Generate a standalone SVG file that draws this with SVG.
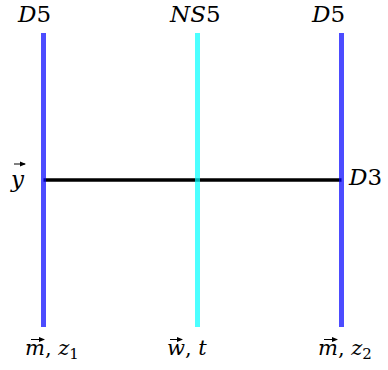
<svg xmlns="http://www.w3.org/2000/svg" width="388" height="370" viewBox="0 0 388 370">
<style>
text{font-family:"DejaVu Serif","Liberation Serif",serif;font-style:italic;font-size:21px;fill:#000}
.big{font-size:23px}
.up{font-style:normal}
.sub{font-size:15px;font-style:normal}
.brane{stroke-width:5;fill:none;stroke-opacity:0.7}
.vec{stroke:#000;stroke-width:1;fill:none}
.vh{fill:#000;stroke:none}
</style>
<defs>
<marker id="ah" viewBox="0 0 6 6" refX="5" refY="3" markerWidth="6" markerHeight="6" markerUnits="userSpaceOnUse" orient="auto">
<path class="vh" d="M0,0.5 L6,3 L0,5.5 Z"/>
</marker>
</defs>
<rect width="388" height="370" fill="#fff"/>
<g id="connectors">
<line x1="43.5" y1="180" x2="341.5" y2="180" stroke="#000" stroke-width="3.4"/>
</g>
<g id="D5-left">
<line class="brane" x1="43.5" y1="33" x2="43.5" y2="327" stroke="#0000ff"/>
<text class="big" x="18" y="22">D<tspan class="up">5</tspan></text>
<text x="25" y="355">m<tspan class="up">,</tspan> z<tspan class="sub" dy="4">1</tspan></text>
<line class="vec" x1="31" y1="339.5" x2="44" y2="339.5" marker-end="url(#ah)"/>
</g>
<g id="NS5">
<line class="brane" x1="197.5" y1="33" x2="197.5" y2="327" stroke="#00ffff"/>
<text class="big" x="170" y="22">NS<tspan class="up">5</tspan></text>
<text x="167" y="355">w<tspan class="up">,</tspan> t</text>
<line class="vec" x1="170" y1="339.5" x2="182" y2="339.5" marker-end="url(#ah)"/>
</g>
<g id="D5-right">
<line class="brane" x1="341.5" y1="33" x2="341.5" y2="327" stroke="#0000ff"/>
<text class="big" x="312" y="22">D<tspan class="up">5</tspan></text>
<text x="318" y="355">m<tspan class="up">,</tspan> z<tspan class="sub" dy="4">2</tspan></text>
<line class="vec" x1="324" y1="339.5" x2="337" y2="339.5" marker-end="url(#ah)"/>
</g>
<g id="D3">
<text class="big" x="11" y="187">y</text>
<line class="vec" x1="14" y1="164" x2="25" y2="164" marker-end="url(#ah)"/>
<text class="big" x="349" y="185">D<tspan class="up">3</tspan></text>
</g>
</svg>
